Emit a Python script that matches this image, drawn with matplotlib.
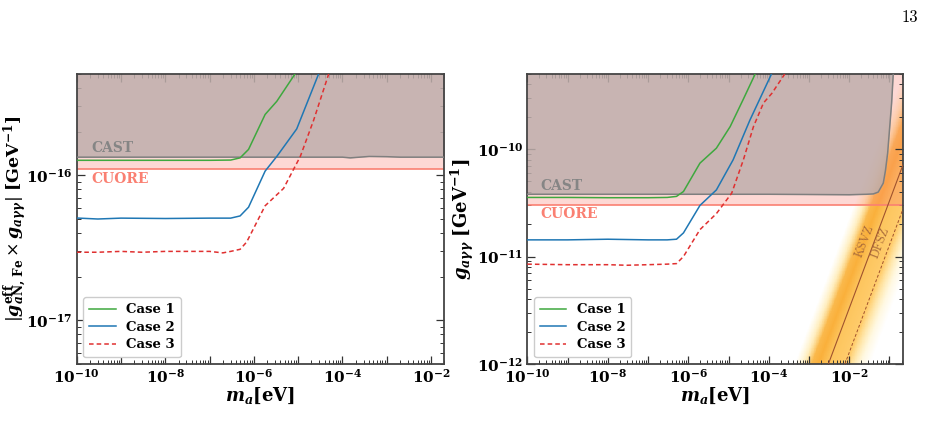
import numpy as np
import matplotlib
matplotlib.use("Agg")
import matplotlib.pyplot as plt
from matplotlib.colors import LinearSegmentedColormap
from matplotlib.ticker import LogLocator, FuncFormatter, NullFormatter

plt.rcParams['mathtext.fontset'] = 'custom'
plt.rcParams['mathtext.rm'] = 'DejaVu Serif'
plt.rcParams['mathtext.it'] = 'DejaVu Serif:italic'
plt.rcParams['mathtext.bf'] = 'DejaVu Serif:bold'
plt.rcParams['mathtext.bfit'] = 'DejaVu Serif:italic:bold'
plt.rcParams['font.family'] = 'DejaVu Serif'
plt.rcParams['axes.unicode_minus'] = True

# ---- data ----
# left panel: |g_aN,Fe^eff x g_agg| [GeV^-1]
left_m1 = [1e-10, 1e-9, 1e-8, 1e-7, 3e-7, 4.9e-7, 7.6e-7, 1.8e-6, 3.3e-6, 8.5e-6]
left_g1 = [1.27e-16, 1.27e-16, 1.27e-16, 1.27e-16, 1.275e-16, 1.32e-16, 1.51e-16, 2.63e-16, 3.24e-16, 5.0e-16]

left_m2 = [1e-10, 3e-10, 1e-9, 1e-8, 1e-7, 3e-7, 4.9e-7, 7.6e-7, 1.8e-6, 3.3e-6, 9.3e-6, 2.9e-5]
left_g2 = [5.08e-17, 5.0e-17, 5.07e-17, 5.04e-17, 5.07e-17, 5.07e-17, 5.25e-17, 6.03e-17,
           1.07e-16, 1.35e-16, 2.09e-16, 5.0e-16]

left_m3 = [1e-10, 3e-10, 1e-9, 3e-9, 1e-8, 3e-8, 1e-7, 2e-7, 3e-7, 4.9e-7, 6.9e-7,
           1.8e-6, 4.7e-6, 1.12e-5, 2.24e-5, 4.9e-5]
left_g3 = [2.95e-17, 2.95e-17, 2.99e-17, 2.95e-17, 2.99e-17, 2.99e-17, 2.99e-17, 2.92e-17,
           2.99e-17, 3.09e-17, 3.47e-17, 6.17e-17, 8.13e-17, 1.35e-16, 2.4e-16, 5.0e-16]

left_cast_m = [1e-10, 1e-4, 1.5e-4, 4e-4, 1e-3, 2e-3, 2e-2]
left_cast_g = [1.335e-16, 1.335e-16, 1.32e-16, 1.35e-16, 1.345e-16, 1.335e-16, 1.335e-16]
left_cuore = 1.1e-16

# right panel: g_agg [GeV^-1]
right_m1 = [1e-10, 1e-9, 1e-8, 1e-7, 3e-7, 5.1e-7, 7.6e-7, 1.95e-6, 5e-6, 1.1e-5, 2.3e-5, 4.6e-5]
right_g1 = [3.55e-11, 3.55e-11, 3.53e-11, 3.53e-11, 3.55e-11, 3.63e-11, 4.03e-11, 7.4e-11,
            1.02e-10, 1.62e-10, 2.88e-10, 5.0e-10]

right_m2 = [1e-10, 1e-9, 1e-8, 1e-7, 3e-7, 5.1e-7, 7.6e-7, 1.95e-6, 5e-6, 1.3e-5, 3.4e-5, 1.17e-4]
right_g2 = [1.43e-11, 1.43e-11, 1.45e-11, 1.43e-11, 1.43e-11, 1.45e-11, 1.66e-11, 2.99e-11,
            4.17e-11, 7.94e-11, 1.86e-10, 5.0e-10]

right_m3 = [1e-10, 1e-9, 1e-8, 3e-8, 1e-7, 3e-7, 5.1e-7, 7.6e-7, 1.95e-6, 5e-6,
            1.2e-5, 2.34e-5, 4.17e-5, 7.4e-5, 1.2e-4, 2.5e-4]
right_g3 = [8.5e-12, 8.4e-12, 8.4e-12, 8.3e-12, 8.4e-12, 8.5e-12, 8.6e-12, 1.0e-11, 1.78e-11,
            2.51e-11, 3.89e-11, 7.94e-11, 1.62e-10, 2.69e-10, 3.31e-10, 5.0e-10]

right_cast_m = [1e-10, 1e-6, 1e-4, 1e-3, 1e-2, 2.7e-2, 3.98e-2, 5.25e-2, 7.0e-2, 7.94e-2,
                9.0e-2, 0.113, 0.124]
right_cast_g = [3.8e-11, 3.8e-11, 3.8e-11, 3.78e-11, 3.76e-11, 3.8e-11, 3.83e-11, 3.98e-11,
                4.82e-11, 6.31e-11, 9.18e-11, 2.69e-10, 5.0e-10]
right_cuore = 3.0e-11

# QCD axion model lines g = coef * m  [GeV^-1 / eV]
ksvz_coef = 3.3e-10
dfsz_coef = 1.28e-10

case_labels = ['Case 1', 'Case 2', 'Case 3']
case_colors = ['#3ea83e', '#1f77b4', '#e03030']
case_styles = ['-', '-', '--']

left_xlim = (1e-10, 2e-2)
left_ylim = (5e-18, 5e-16)
right_xlim = (1e-10, 0.22)
right_ylim = (1e-12, 5e-10)

fig = plt.figure(figsize=(9.27, 4.45), dpi=100)
axL = fig.add_axes([0.0827, 0.182, 0.3966, 0.6517])
axR = fig.add_axes([0.5688, 0.182, 0.4056, 0.6517])


def tick_fmt(v, pos):
    e = int(round(np.log10(v)))
    return r'$\mathbf{10^{%d}}$' % e


def even_fmt(v, pos):
    e = int(round(np.log10(v)))
    if e % 2:
        return ''
    return r'$\mathbf{10^{%d}}$' % e


def style_axis(ax):
    ax.set_xscale('log')
    ax.set_yscale('log')
    ax.xaxis.set_major_locator(LogLocator(base=10, numticks=30))
    ax.xaxis.set_minor_locator(LogLocator(base=10, subs=np.arange(2, 10), numticks=30))
    ax.yaxis.set_major_locator(LogLocator(base=10, numticks=30))
    ax.yaxis.set_minor_locator(LogLocator(base=10, subs=np.arange(2, 10), numticks=30))
    ax.xaxis.set_major_formatter(FuncFormatter(even_fmt))
    ax.yaxis.set_major_formatter(FuncFormatter(tick_fmt))
    ax.xaxis.set_minor_formatter(NullFormatter())
    ax.yaxis.set_minor_formatter(NullFormatter())
    ax.tick_params(which='both', direction='in', top=True, right=True, labelsize=11,
                   color='#333333')
    ax.tick_params(which='major', length=6, width=0.9, pad=3)
    ax.tick_params(which='minor', length=3, width=0.7)
    for s in ax.spines.values():
        s.set_linewidth(1.3)
        s.set_color('#444444')
    ax.set_xlabel(r'$\mathbfit{m}_{\mathbfit{a}}\mathbf{[eV]}$', fontsize=13, labelpad=0)


def draw_cases(ax, ms, gs):
    for m, g, lab, c, ls in zip(ms, gs, case_labels, case_colors, case_styles):
        ax.plot(m, g, color=c, ls=ls, lw=1.1, label=lab, zorder=5,
                dashes=(3, 2) if ls == '--' else (None, None))
    leg = ax.legend(loc='lower left', prop={'family': 'DejaVu Serif', 'weight': 'bold', 'size': 9.5},
                    fancybox=True, framealpha=1, edgecolor='#cccccc', handlelength=2.0,
                    borderpad=0.45, labelspacing=0.35)
    leg.set_zorder(10)


def draw_limits(ax, cast_m, cast_g, cuore, xlim, ylim):
    ax.fill_between(xlim, [cuore] * 2, [ylim[1]] * 2, color='#fa8072',
                    alpha=0.3, lw=0, zorder=1)
    ax.axhline(cuore, color='#fa8072', lw=1.2, zorder=2)
    ax.fill_between(cast_m, cast_g, ylim[1], color='#bfaeac', alpha=0.85,
                    lw=0, zorder=2)
    ax.plot(cast_m, cast_g, color='#7f7f7f', lw=1.1, zorder=3)
    ax.text(2.1e-10, cast_g[0] * 1.03, 'CAST', color='#858585', fontsize=10,
            fontweight='bold', va='bottom', ha='left', zorder=4)
    ax.text(2.1e-10, cuore * 0.955, 'CUORE', color='#fa8072', fontsize=10,
            fontweight='bold', va='top', ha='left', zorder=4)


# ---------- left panel ----------
style_axis(axL)
axL.set_xlim(*left_xlim)
axL.set_ylim(*left_ylim)
draw_limits(axL, left_cast_m, left_cast_g, left_cuore, left_xlim, left_ylim)
draw_cases(axL, [left_m1, left_m2, left_m3], [left_g1, left_g2, left_g3])
axL.set_ylabel(r'$|\mathbfit{g}^{\mathbf{eff}}_{\mathbfit{a}\mathbf{N,\,Fe}}'
               r'\times \mathbfit{g}_{\mathbfit{a\gamma\gamma}}|\ \mathbf{[GeV^{-1}]}$',
               fontsize=12.5)
axL.yaxis.set_label_coords(-0.127, 0.5)

# ---------- right panel ----------
style_axis(axR)
axR.set_xlim(*right_xlim)
axR.set_ylim(*right_ylim)

# QCD band as a smooth gradient around the KSVZ line
lm = np.linspace(np.log10(right_xlim[0]), np.log10(right_xlim[1]), 900)
lg = np.linspace(np.log10(right_ylim[0]), np.log10(right_ylim[1]), 400)
LM, LG = np.meshgrid(lm, lg)
U = LM - (LG - np.log10(ksvz_coef))
stops = [(-0.85, (1.0, 0.92, 0.6, 0.0)), (-0.62, (1.0, 0.86, 0.47, 0.45)),
         (-0.42, (0.98, 0.71, 0.26, 0.95)), (-0.25, (0.98, 0.69, 0.23, 1.0)),
         (0.0, (0.99, 0.76, 0.33, 0.95)), (0.45, (1.0, 0.78, 0.36, 0.9)),
         (0.62, (1.0, 0.84, 0.45, 0.6)), (0.82, (1.0, 0.90, 0.55, 0.25)),
         (1.05, (1.0, 0.92, 0.6, 0.0))]
u0, u1 = stops[0][0], stops[-1][0]
cmap = LinearSegmentedColormap.from_list(
    'qcd', [((u - u0) / (u1 - u0), c) for u, c in stops])
cmap.set_under((1.0, 0.9, 0.55, 0))
cmap.set_over((1.0, 0.92, 0.6, 0))
axR.pcolormesh(10 ** LM, 10 ** LG, U, cmap=cmap, vmin=u0, vmax=u1, shading='auto',
               zorder=0, rasterized=True, linewidth=0, antialiased=False)

m_line = np.array(right_xlim)
axR.plot(m_line, ksvz_coef * m_line, color='#a0522d', lw=0.8, zorder=4)
axR.plot(m_line, dfsz_coef * m_line, color='#a0522d', lw=0.7, ls='--', dashes=(3, 2), zorder=4)
axR.text(10 ** -1.61, 10 ** -10.86, 'KSVZ', rotation=69, color='#a86a3a', fontsize=9,
         ha='center', va='center', zorder=4, family='cmr10')
axR.text(10 ** -1.22, 10 ** -10.876, 'DFSZ', rotation=69, color='#a86a3a', fontsize=9,
         ha='center', va='center', zorder=4, family='cmr10')

draw_limits(axR, right_cast_m, right_cast_g, right_cuore, right_xlim, right_ylim)
draw_cases(axR, [right_m1, right_m2, right_m3], [right_g1, right_g2, right_g3])
axR.set_ylabel(r'$\mathbfit{g}_{\mathbfit{a\gamma\gamma}}\ \mathbf{[GeV^{-1}]}$',
               fontsize=13)
axR.yaxis.set_label_coords(-0.137, 0.5)

fig.text(0.982, 0.962, '13', fontsize=12, ha='center', va='center', family='cmr10')

fig.savefig('out.png', dpi=100)
